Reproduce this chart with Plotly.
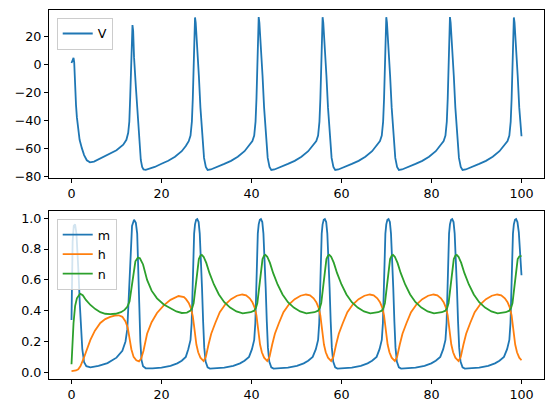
"""
Hodgkin-Huxley style traces: membrane voltage on top, gating variables below.
Values were read off the reference picture.
"""

import plotly.graph_objects as go

# membrane voltage V (mV) against time (ms)
t_v = [0, 0.2, 0.45, 0.6, 0.8, 1.0, 1.2, 1.5, 1.8, 2.3, 2.8, 3.4, 4.1, 5.0, 6.0, 8.0, 10.0, 11.5,
       12.2, 12.6, 12.85, 13.05, 13.25, 13.4, 13.55, 13.7, 13.9, 14.3, 14.6, 15.0, 15.4, 15.7, 16.0, 16.5,
       17.0, 18.5, 20.0, 21.5, 23.0, 24.5, 25.4, 26.05, 26.45, 26.75, 26.95, 27.15, 27.3, 27.45, 27.6,
       27.95, 28.3, 28.65, 29.05, 29.45, 29.85, 30.25,
       30.95, 32.45, 33.95, 35.45, 36.95, 38.45, 39.45, 40.2, 40.6, 40.9, 41.1, 41.3, 41.45, 41.6, 41.75,
       42.1, 42.45, 42.8, 43.2, 43.6, 44.0, 44.4,
       45.1, 46.6, 48.1, 49.6, 51.1, 52.6, 53.6, 54.4, 54.8, 55.1, 55.3, 55.5, 55.65, 55.8, 55.95,
       56.3, 56.65, 57.0, 57.4, 57.8, 58.2, 58.6,
       59.3, 60.8, 62.3, 63.8, 65.3, 66.8, 67.8, 68.55, 68.95, 69.25, 69.45, 69.65, 69.8, 69.95, 70.1,
       70.45, 70.8, 71.15, 71.55, 71.95, 72.35, 72.75,
       73.45, 74.95, 76.45, 77.95, 79.45, 80.95, 81.95, 82.7, 83.1, 83.4, 83.6, 83.8, 83.95, 84.1, 84.25,
       84.6, 84.95, 85.3, 85.7, 86.1, 86.5, 86.9,
       87.6, 89.1, 90.6, 92.1, 93.6, 95.1, 96.1, 96.9, 97.3, 97.6, 97.8, 98.0, 98.15, 98.3, 98.45,
       98.8, 99.15, 99.5, 100.0]
v = [1.0, 3.5, 4.6, 1.5, -17, -29, -38, -47, -54, -60, -65, -68.7, -70.2, -69.6, -68.0, -65.0, -61.5, -57.5,
     -54, -49, -41, -23, 4, 20, 28.2, 24, 5, -16, -32, -53, -68.5, -73.5, -75.2, -75.6,
     -75.2, -73.5, -71.2, -69.0, -66.2, -62.2, -58.5, -55, -51, -41, -25, -2, 18, 33.6, 30,
     14, -8, -31, -52, -67, -73.5, -75.6,
     -75.3, -73.5, -71.3, -69.1, -66.2, -62.2, -58.3, -55, -51, -41, -25, -2, 18, 33.9, 30,
     14, -8, -31, -52, -67, -73.5, -75.6,
     -75.3, -73.5, -71.3, -69.1, -66.2, -62.2, -58.3, -55, -51, -41, -25, -2, 18, 33.8, 30,
     14, -8, -31, -52, -67, -73.5, -75.6,
     -75.3, -73.5, -71.3, -69.1, -66.2, -62.2, -58.3, -55, -51, -41, -25, -2, 18, 33.8, 30,
     14, -8, -31, -52, -67, -73.5, -75.6,
     -75.3, -73.5, -71.3, -69.1, -66.2, -62.2, -58.3, -55, -51, -41, -25, -2, 18, 33.9, 30,
     14, -8, -31, -52, -67, -73.5, -75.6,
     -75.3, -73.5, -71.3, -69.1, -66.2, -62.2, -58.3, -55, -51, -41, -25, -2, 18, 33.6, 30,
     14, -8, -31, -51.5]

# sodium activation m
t_m = [0, 0.1, 0.25, 0.5, 0.8, 1.1, 1.35, 1.6, 1.85, 2.1, 2.4, 2.8, 3.3, 4.2, 6.0, 8.0, 10.0, 11.3,
       12.0, 12.4, 12.7, 12.95, 13.2, 13.45, 13.9, 14.3, 14.6, 14.85, 15.05, 15.3, 15.55, 15.9, 16.5,
       18.0, 20.0, 22.0, 23.5, 24.5, 25.4, 25.95, 26.45, 26.7, 26.9, 27.07, 27.25, 27.45, 27.7, 27.95,
       28.25, 28.5, 28.75, 29.0, 29.25, 29.5, 29.8, 30.25, 30.75,
       31.95, 33.95, 35.95, 37.45, 38.45, 39.45, 40.1, 40.6, 40.85, 41.05, 41.22, 41.4, 41.6, 41.85, 42.1,
       42.4, 42.65, 42.9, 43.15, 43.4, 43.65, 43.95, 44.4, 44.9,
       46.1, 48.1, 50.1, 51.6, 52.6, 53.6, 54.3, 54.8, 55.05, 55.25, 55.42, 55.6, 55.8, 56.05, 56.3,
       56.6, 56.85, 57.1, 57.35, 57.6, 57.85, 58.15, 58.6, 59.1,
       60.3, 62.3, 64.3, 65.8, 66.8, 67.8, 68.45, 68.95, 69.2, 69.4, 69.57, 69.75, 69.95, 70.2, 70.45,
       70.75, 71.0, 71.25, 71.5, 71.75, 72.0, 72.3, 72.75, 73.25,
       74.45, 76.45, 78.45, 79.95, 80.95, 81.95, 82.6, 83.1, 83.35, 83.55, 83.72, 83.9, 84.1, 84.35, 84.6,
       84.9, 85.15, 85.4, 85.65, 85.9, 86.15, 86.45, 86.9, 87.4,
       88.6, 90.6, 92.6, 94.1, 95.1, 96.1, 96.8, 97.3, 97.55, 97.75, 97.92, 98.1, 98.3, 98.55, 98.8,
       99.1, 99.4, 99.7, 100.0]
m = [0.34, 0.6, 0.85, 0.95, 0.96, 0.9, 0.78, 0.62, 0.44, 0.28, 0.15, 0.065, 0.04, 0.032, 0.042, 0.06, 0.095, 0.14,
     0.2, 0.28, 0.47, 0.7, 0.87, 0.95, 0.99, 0.97, 0.9, 0.7, 0.45, 0.2, 0.08, 0.04, 0.026,
     0.026, 0.03, 0.042, 0.058, 0.075, 0.1, 0.15, 0.21, 0.32, 0.52, 0.75, 0.9, 0.96, 0.99, 0.995,
     0.975, 0.9, 0.75, 0.55, 0.33, 0.16, 0.07, 0.032, 0.024,
     0.025, 0.03, 0.042, 0.058, 0.075, 0.1, 0.15, 0.21, 0.32, 0.52, 0.75, 0.9, 0.96, 0.99, 0.995,
     0.975, 0.9, 0.75, 0.55, 0.33, 0.16, 0.07, 0.032, 0.024,
     0.025, 0.03, 0.042, 0.058, 0.075, 0.1, 0.15, 0.21, 0.32, 0.52, 0.75, 0.9, 0.96, 0.99, 0.995,
     0.975, 0.9, 0.75, 0.55, 0.33, 0.16, 0.07, 0.032, 0.024,
     0.025, 0.03, 0.042, 0.058, 0.075, 0.1, 0.15, 0.21, 0.32, 0.52, 0.75, 0.9, 0.96, 0.99, 0.995,
     0.975, 0.9, 0.75, 0.55, 0.33, 0.16, 0.07, 0.032, 0.024,
     0.025, 0.03, 0.042, 0.058, 0.075, 0.1, 0.15, 0.21, 0.32, 0.52, 0.75, 0.9, 0.96, 0.99, 0.995,
     0.975, 0.9, 0.75, 0.55, 0.33, 0.16, 0.07, 0.032, 0.024,
     0.025, 0.03, 0.042, 0.058, 0.075, 0.1, 0.15, 0.21, 0.32, 0.52, 0.75, 0.9, 0.96, 0.99, 0.995,
     0.975, 0.91, 0.78, 0.63]

# sodium inactivation h
t_h = [0, 0.5, 1.0, 1.5, 2.0, 2.7, 3.4, 4.2, 5.2, 6.4, 7.5, 8.6, 9.6, 10.5, 11.3, 12.0, 12.5, 12.9, 13.3,
       13.8, 14.4, 15.0, 15.5, 16.0, 16.8, 17.8, 19.0, 20.5, 22.0, 23.8, 25.0,
       25.45, 26.05, 26.55, 26.95, 27.2, 27.45, 27.75, 28.15, 28.65, 29.35,
       29.85, 30.45, 31.05, 31.95, 32.95, 34.15, 35.45, 36.75, 37.95, 38.8, 39.6, 40.2, 40.7, 41.1, 41.35,
       41.6, 41.9, 42.3, 42.8, 43.5,
       44.0, 44.6, 45.2, 46.1, 47.1, 48.3, 49.6, 50.9, 52.1, 53.0, 53.8, 54.4, 54.9, 55.3, 55.55,
       55.8, 56.1, 56.5, 57.0, 57.7,
       58.2, 58.8, 59.4, 60.3, 61.3, 62.5, 63.8, 65.1, 66.3, 67.15, 67.95, 68.55, 69.05, 69.45, 69.7,
       69.95, 70.25, 70.65, 71.15, 71.85,
       72.35, 72.95, 73.55, 74.45, 75.45, 76.65, 77.95, 79.25, 80.45, 81.3, 82.1, 82.7, 83.2, 83.6, 83.85,
       84.1, 84.4, 84.8, 85.3, 86.0,
       86.5, 87.1, 87.7, 88.6, 89.6, 90.8, 92.1, 93.4, 94.6, 95.5, 96.3, 96.9, 97.4, 97.8, 98.05,
       98.3, 98.6, 99.0, 99.5, 100.0]
h = [0.008, 0.008, 0.012, 0.02, 0.04, 0.09, 0.15, 0.21, 0.27, 0.32, 0.345, 0.36, 0.368, 0.37, 0.36, 0.33, 0.29,
     0.22, 0.15, 0.1, 0.078, 0.071, 0.09, 0.14, 0.25, 0.325, 0.385, 0.435, 0.47, 0.495, 0.488,
     0.475, 0.45, 0.415, 0.365, 0.31, 0.24, 0.18, 0.13, 0.095, 0.073,
     0.1, 0.18, 0.25, 0.32, 0.39, 0.44, 0.475, 0.497, 0.505, 0.50, 0.48, 0.455, 0.42, 0.37, 0.31,
     0.24, 0.18, 0.13, 0.095, 0.073,
     0.1, 0.18, 0.25, 0.32, 0.39, 0.44, 0.475, 0.497, 0.505, 0.50, 0.48, 0.455, 0.42, 0.37, 0.31,
     0.24, 0.18, 0.13, 0.095, 0.073,
     0.1, 0.18, 0.25, 0.32, 0.39, 0.44, 0.475, 0.497, 0.505, 0.50, 0.48, 0.455, 0.42, 0.37, 0.31,
     0.24, 0.18, 0.13, 0.095, 0.073,
     0.1, 0.18, 0.25, 0.32, 0.39, 0.44, 0.475, 0.497, 0.505, 0.50, 0.48, 0.455, 0.42, 0.37, 0.31,
     0.24, 0.18, 0.13, 0.095, 0.073,
     0.1, 0.18, 0.25, 0.32, 0.39, 0.44, 0.475, 0.497, 0.505, 0.50, 0.48, 0.455, 0.42, 0.37, 0.31,
     0.24, 0.18, 0.13, 0.095, 0.078]

# potassium activation n
t_n = [0, 0.2, 0.45, 0.8, 1.2, 1.9, 2.5, 3.2, 4.2, 5.3, 6.4, 7.5, 8.6, 9.8, 11.0, 11.8, 12.4, 12.9, 13.2,
       13.5, 13.8, 14.2, 14.75, 15.2, 15.9, 16.8, 17.8, 19.0, 20.5, 21.9, 23.3, 24.5,
       25.65, 26.45, 26.85, 27.15, 27.35, 27.55, 27.75, 28.0, 28.3, 28.65, 28.95, 29.35, 29.95, 30.65,
       31.65, 32.75, 33.95, 35.25, 36.65, 38.05,
       38.6, 39.8, 40.6, 41.0, 41.3, 41.5, 41.7, 41.9, 42.15, 42.45, 42.8, 43.1, 43.5, 44.1, 44.8,
       45.8, 46.9, 48.1, 49.4, 50.8, 52.2,
       52.8, 54.0, 54.8, 55.2, 55.5, 55.7, 55.9, 56.1, 56.35, 56.65, 57.0, 57.3, 57.7, 58.3, 59.0,
       60.0, 61.1, 62.3, 63.6, 65.0, 66.4,
       66.95, 68.15, 68.95, 69.35, 69.65, 69.85, 70.05, 70.25, 70.5, 70.8, 71.15, 71.45, 71.85, 72.45, 73.15,
       74.15, 75.25, 76.45, 77.75, 79.15, 80.55,
       81.1, 82.3, 83.1, 83.5, 83.8, 84.0, 84.2, 84.4, 84.65, 84.95, 85.3, 85.6, 86.0, 86.6, 87.3,
       88.3, 89.4, 90.6, 91.9, 93.3, 94.7,
       95.3, 96.5, 97.3, 97.7, 98.0, 98.2, 98.4, 98.6, 98.85, 99.15, 99.5, 100.0]
n = [0.052, 0.18, 0.32, 0.43, 0.48, 0.51, 0.5, 0.47, 0.437, 0.41, 0.39, 0.38, 0.377, 0.38, 0.39, 0.405, 0.425,
     0.46, 0.52, 0.6, 0.66, 0.72, 0.745, 0.74, 0.7, 0.6, 0.53, 0.48, 0.44, 0.415, 0.395, 0.385,
     0.388, 0.40, 0.42, 0.45, 0.5, 0.57, 0.63, 0.69, 0.735, 0.757, 0.762, 0.75, 0.71, 0.645,
     0.57, 0.505, 0.455, 0.42, 0.395, 0.383,
     0.385, 0.39, 0.40, 0.42, 0.45, 0.5, 0.57, 0.63, 0.69, 0.735, 0.757, 0.762, 0.75, 0.71, 0.645,
     0.57, 0.505, 0.455, 0.42, 0.395, 0.383,
     0.385, 0.39, 0.40, 0.42, 0.45, 0.5, 0.57, 0.63, 0.69, 0.735, 0.757, 0.762, 0.75, 0.71, 0.645,
     0.57, 0.505, 0.455, 0.42, 0.395, 0.383,
     0.385, 0.39, 0.40, 0.42, 0.45, 0.5, 0.57, 0.63, 0.69, 0.735, 0.757, 0.762, 0.75, 0.71, 0.645,
     0.57, 0.505, 0.455, 0.42, 0.395, 0.383,
     0.385, 0.39, 0.40, 0.42, 0.45, 0.5, 0.57, 0.63, 0.69, 0.735, 0.757, 0.762, 0.75, 0.71, 0.645,
     0.57, 0.505, 0.455, 0.42, 0.395, 0.383,
     0.385, 0.39, 0.40, 0.42, 0.45, 0.5, 0.57, 0.63, 0.69, 0.735, 0.752, 0.755]

x_ticks = [0, 20, 40, 60, 80, 100]
v_ticks = [-80, -60, -40, -20, 0, 20]
gate_ticks = [0.0, 0.2, 0.4, 0.6, 0.8, 1.0]

BLUE, ORANGE, GREEN = "#1f77b4", "#ff7f0e", "#2ca02c"
LW = 1.8
FONT = dict(family="DejaVu Sans", size=12.7, color="black")

fig = go.Figure()
fig.add_trace(go.Scatter(x=t_v, y=v, mode="lines", name="V", showlegend=True,
                         line=dict(color=BLUE, width=LW), xaxis="x", yaxis="y", legend="legend"))
fig.add_trace(go.Scatter(x=t_m, y=m, mode="lines", name="m", showlegend=True,
                         line=dict(color=BLUE, width=LW), xaxis="x2", yaxis="y2", legend="legend2"))
fig.add_trace(go.Scatter(x=t_h, y=h, mode="lines", name="h", showlegend=True,
                         line=dict(color=ORANGE, width=LW), xaxis="x2", yaxis="y2", legend="legend2"))
fig.add_trace(go.Scatter(x=t_n, y=n, mode="lines", name="n", showlegend=True,
                         line=dict(color=GREEN, width=LW), xaxis="x2", yaxis="y2", legend="legend2"))

axis_style = dict(showline=True, linecolor="black", linewidth=1, mirror=True,
                  ticks="outside", ticklen=4, tickwidth=1, tickcolor="black",
                  showgrid=False, zeroline=False, automargin=False, tickfont=FONT)

legend_style = dict(bgcolor="rgba(255,255,255,0.8)", bordercolor="#cccccc", borderwidth=1,
                    font=FONT, xref="paper", yref="paper", xanchor="left", yanchor="top",
                    itemwidth=30, tracegroupgap=0, visible=True)

# the page puts the figure 8 px in from the top-left corner, so the figure is
# 8 px smaller than the window and its margins are trimmed to match
fig.update_layout(
    template="none",
    width=546, height=405,
    showlegend=True,
    margin=dict(l=41, r=10, t=2, b=34, autoexpand=False),
    paper_bgcolor="white", plot_bgcolor="white",
    xaxis=dict(domain=[0, 1], range=[-5, 105], tickvals=x_ticks, anchor="y", **axis_style),
    yaxis=dict(domain=[0.5447, 1], range=[-81.4, 38.95], tickvals=v_ticks, anchor="x", **axis_style),
    xaxis2=dict(domain=[0, 1], range=[-5, 105], tickvals=x_ticks, anchor="y2", **axis_style),
    yaxis2=dict(domain=[0, 0.4553], range=[-0.0435, 1.047], tickvals=gate_ticks,
                tickformat=".1f", anchor="x2", **axis_style),
    legend=dict(x=0.0156, y=0.979, **legend_style),
    legend2=dict(x=0.0156, y=0.434, **legend_style),
)

fig.write_html("out.html")
